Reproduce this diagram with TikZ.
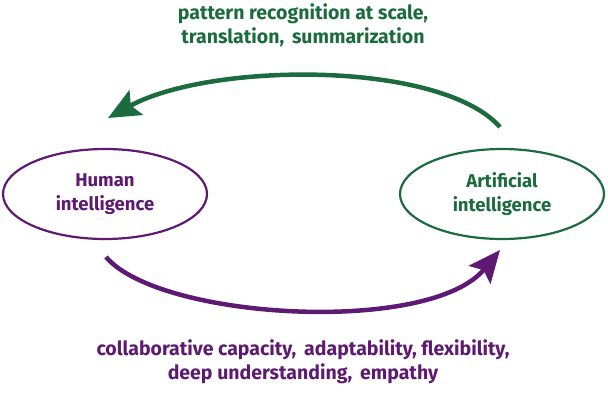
\documentclass[tikz,border=0pt]{standalone}
\usepackage{fontspec}
\setmainfont{Fira Sans}
\usetikzlibrary{arrows.meta,shapes.geometric}
\definecolor{pur}{HTML}{5E1A72}
\definecolor{grn}{HTML}{1B6B3E}
\begin{document}
\begin{tikzpicture}[x=1pt,y=-1pt,
  lbl/.style={font=\fontsize{19.5}{24}\selectfont\bfseries,align=center},
  ell/.style={draw,line width=2.2pt,ellipse,minimum width=204pt,minimum height=90pt,font=\fontsize{18.5}{24}\selectfont\bfseries,align=center},
  arr/.style={line width=4.5pt,-{Stealth[length=32pt,width=28pt,inset=6pt]}}]
\useasboundingbox (0,0) rectangle (608,420);
\node[ell,draw=pur,text=pur] (h) at (105,194) {Human\\intelligence};
\node[ell,draw=grn,text=grn] (a) at (502,194) {Artificial\\intelligence};
\node[lbl,text=grn] (t) at (303,25) {pattern recognition at scale,\\translation,\, summarization};
\node[lbl,text=pur] (b) at (303,362) {collaborative capacity,\, adaptability, flexibility,\\deep understanding,\, empathy};
\coordinate (a1) at (500,127);
\coordinate (h1) at (108,118);
\coordinate (h2) at (106,257);
\coordinate (a2) at (500,250);
\draw[grn,arr] (a1) .. controls (440,60) and (210,62) .. (h1);
\draw[pur,arr] (h2) .. controls (160,320) and (430,335) .. (a2);
\end{tikzpicture}
\end{document}
